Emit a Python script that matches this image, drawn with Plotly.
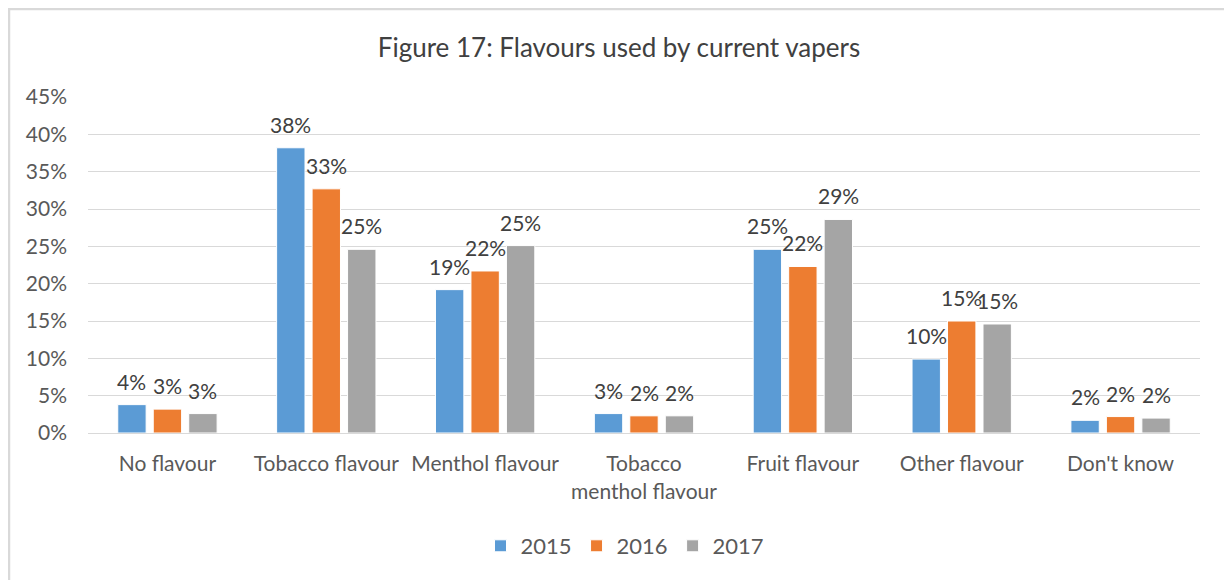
import plotly.graph_objects as go

categories = ["No flavour", "Tobacco flavour", "Menthol flavour", "Tobacco<br>menthol flavour",
              "Fruit flavour", "Other flavour", "Don't know"]
years = ["2015", "2016", "2017"]
v2015 = [3.8, 38.2, 19.2, 2.6, 24.6, 9.9, 1.7]
v2016 = [3.2, 32.7, 21.7, 2.3, 22.3, 15.0, 2.2]
v2017 = [2.6, 24.6, 25.1, 2.3, 28.6, 14.6, 2.0]
colors = ["#5B9BD5", "#ED7D31", "#A5A5A5"]
tick_vals = [0, 5, 10, 15, 20, 25, 30, 35, 40, 45]
tick_text = ["0%", "5%", "10%", "15%", "20%", "25%", "30%", "35%", "40%", "45%"]

FONT = "Lato"
FS = 21
# page has an 8px body margin; reference pixel coordinates are converted
OFF = 8
W, H = 1232 - OFF, 580 - OFF
L, R, T, B = 88 - OFF, 1232 - 1200, 97 - OFF, 580 - 433
pw, ph = W - L - R, H - T - B
BARGAP, GROUPGAP = 0.33, 0.2
slot = pw / len(categories) * (1 - BARGAP) / len(years)

def px(x):
    return (x - OFF - L) / pw

def py(y):
    return (H - B - (y - OFF)) / ph

fig = go.Figure()
for i, (name, vals, col) in enumerate(zip(years, [v2015, v2016, v2017], colors)):
    fig.add_trace(go.Bar(
        x=categories, y=vals, name=name,
        marker=dict(color=col, line=dict(color="white", width=1)),
    ))
    for c, v in zip(categories, vals):
        fig.add_annotation(x=c, y=v, xref="x", yref="y", text=f"{v:.0f}%",
                           showarrow=False, xanchor="center", yanchor="bottom",
                           xshift=(i - 1) * slot, yshift=9,
                           font=dict(family=FONT, size=FS, color="#404040"))

fig.update_layout(
    width=W, height=H,
    margin=dict(l=L, r=R, t=T, b=B),
    paper_bgcolor="white", plot_bgcolor="white",
    barmode="group", bargap=BARGAP, bargroupgap=GROUPGAP,
    font=dict(family=FONT, size=FS, color="#595959"),
    title=dict(text="Figure 17: Flavours used by current vapers",
               x=(619 - OFF) / W, xanchor="center",
               y=1 - (48 - OFF) / H, yanchor="middle",
               font=dict(family=FONT, size=26, color="#404040")),
    xaxis=dict(showline=True, linecolor="#d9d9d9", linewidth=1, ticks="",
               ticklabelstandoff=12,
               tickfont=dict(size=FS, color="#595959")),
    yaxis=dict(range=[0, 45], tickvals=tick_vals, ticktext=tick_text,
               showgrid=True, gridcolor="#d9d9d9", gridwidth=1, zeroline=False,
               ticklabelstandoff=20,
               tickfont=dict(size=FS, color="#595959")),
    legend=dict(orientation="h", x=px(625), xanchor="center", y=py(546), yanchor="middle",
                font=dict(size=22, color="#595959"), itemwidth=30, traceorder="normal"),
    showlegend=True,
)

# chart border (top, left, right)
bc = "#d9d9d9"
for x0, y0, x1, y1 in [(8, 9, 1230, 9), (9, 9, 9, 580), (1230, 9, 1230, 580)]:
    fig.add_shape(type="line", xref="paper", yref="paper",
                  x0=px(x0), y0=py(y0), x1=px(x1), y1=py(y1),
                  line=dict(color=bc, width=2.5))

fig.write_html("out.html")
